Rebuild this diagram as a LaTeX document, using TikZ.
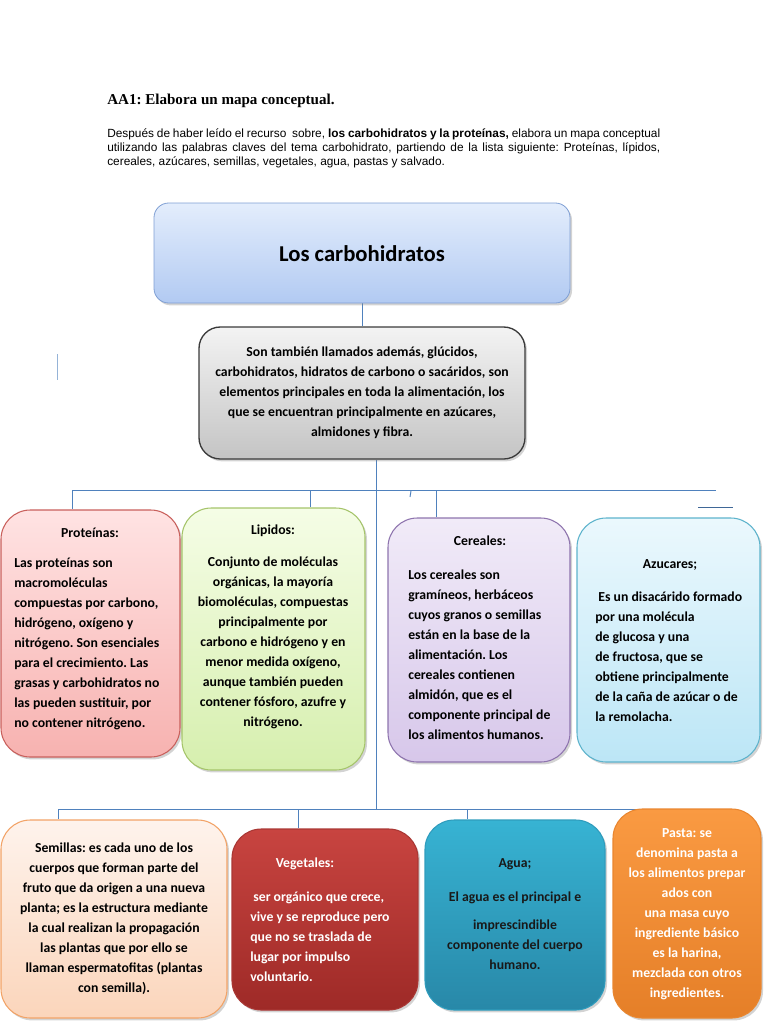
\documentclass[tikz,border=0pt]{standalone}
\usepackage{fontspec}
\setmainfont{Carlito}
\newfontfamily\cabecera{Liberation Serif}
\newfontfamily\arial{Liberation Sans}
\usetikzlibrary{fit,shadows,backgrounds}
\frenchspacing

\definecolor{linea}{HTML}{4F81BD}
\definecolor{azulA}{HTML}{E3EDFC}
\definecolor{azulB}{HTML}{B2CAF2}
\definecolor{azulC}{HTML}{7F9FD4}
\definecolor{grisA}{HTML}{F3F3F3}
\definecolor{grisB}{HTML}{C4C4C4}
\definecolor{grisC}{HTML}{3A3A3A}
\definecolor{rosaA}{HTML}{FFE3E3}
\definecolor{rosaB}{HTML}{F7B2B0}
\definecolor{rosaC}{HTML}{C9605C}
\definecolor{verdeA}{HTML}{F5FDE6}
\definecolor{verdeB}{HTML}{D6EFAE}
\definecolor{verdeC}{HTML}{A5C46A}
\definecolor{lilaA}{HTML}{F1EBF8}
\definecolor{lilaB}{HTML}{D7C7EA}
\definecolor{lilaC}{HTML}{8E74AE}
\definecolor{celesteA}{HTML}{EBF8FD}
\definecolor{celesteB}{HTML}{BCE6F6}
\definecolor{celesteC}{HTML}{5DB3CC}
\definecolor{melocA}{HTML}{FEF3EC}
\definecolor{melocB}{HTML}{FBD5BB}
\definecolor{melocC}{HTML}{F2A367}
\definecolor{rojoA}{HTML}{C84440}
\definecolor{rojoB}{HTML}{9E2A27}
\definecolor{rojoC}{HTML}{A93734}
\definecolor{aguaA}{HTML}{37B3D3}
\definecolor{aguaB}{HTML}{2888A8}
\definecolor{aguaC}{HTML}{2F9CBD}
\definecolor{naranjaA}{HTML}{FA9A42}
\definecolor{naranjaB}{HTML}{E57F28}
\definecolor{naranjaC}{HTML}{E9862F}

\tikzset{
    caja/.style={rounded corners=#1,inner sep=0pt,line width=0.8pt,
        drop shadow={shadow xshift=1.5pt,shadow yshift=-1.8pt,opacity=0.35}},
    texto/.style={font=\fontsize{10.3}{15}\selectfont\bfseries,inner sep=0pt},
    conector/.style={draw=linea,line width=0.7pt}
}

\begin{document}
\begin{tikzpicture}[x=0.75pt,y=-0.75pt]
    \useasboundingbox (0,0) rectangle (768,1024);

    % consigna
    \node[font=\cabecera\bfseries\fontsize{11.3}{13}\selectfont,anchor=west,inner sep=0pt]
        (titulo) at (107,101) {AA1: Elabora un mapa conceptual.};
    \node[font=\arial\fontsize{8.9}{10.5}\selectfont,text width=414.75pt,align=justify,
        anchor=north west,inner sep=0pt] (consigna) at (107,128)
        {Después de haber leído el recurso \ sobre, \textbf{los carbohidratos y la proteínas,}
        elabora un mapa conceptual\linebreak utilizando las palabras claves del tema carbohidrato,
        partiendo de la lista siguiente: Proteínas, lípidos,\linebreak cereales, azúcares,
        semillas, vegetales, agua, pastas y salvado.};

    % tema y resumen
    \node[caja=11pt,fit={(154,203) (570,303)},top color=azulA,bottom color=azulB,draw=azulC,
        line width=0.6pt] (tema) {};
    \node[font=\fontsize{17}{20}\selectfont\bfseries,inner sep=0pt] (temaT) at (362,254)
        {Los carbohidratos};
    \node[caja=16pt,fit={(199,327) (525,459)},top color=grisA,bottom color=grisB,draw=grisC,
        line width=1pt] (resumen) {};
    \node[texto,align=center] (resumenT) at (362,393)
        {Son también llamados además, glúcidos,\\ carbohidratos, hidratos de carbono o sacáridos, son\\
        elementos principales en toda la alimentación, los\\ que se encuentran principalmente en azúcares,\\
        almidones y fibra.};

    % primera fila
    \node[caja=22pt,fit={(1,510) (180,757)},top color=rosaA,bottom color=rosaB,draw=rosaC] (prot) {};
    \node[texto] (protT) at (90,533) {Proteínas:};
    \node[texto,align=left,anchor=west] (protC) at (14,644)
        {Las proteínas son\\ macromoléculas\\ compuestas por carbono,\\ hidrógeno, oxígeno y\\
        nitrógeno. Son esenciales\\ para el crecimiento. Las\\ grasas y carbohidratos no\\
        las pueden sustituir, por\\ no contener nitrógeno.};

    \node[caja=22pt,fit={(182,508) (365,770)},top color=verdeA,bottom color=verdeB,draw=verdeC] (lip) {};
    \node[texto] (lipT) at (273,531) {Lipidos:};
    \node[texto,align=center] (lipC) at (273,643)
        {Conjunto de moléculas\\ orgánicas, la mayoría\\ biomoléculas, compuestas\\ principalmente por\\
        carbono e hidrógeno y en\\ menor medida oxígeno,\\ aunque también pueden\\
        contener fósforo, azufre y\\ nitrógeno.};

    \node[caja=22pt,fit={(388,518) (570,762)},top color=lilaA,bottom color=lilaB,draw=lilaC] (cer) {};
    \node[texto] (cerT) at (480,541) {Cereales:};
    \node[texto,align=left,anchor=west] (cerC) at (408,655)
        {Los cereales son\\ gramíneos, herbáceos\\ cuyos granos o semillas\\ están en la base de la\\
        alimentación. Los\\ cereales contienen\\ almidón, que es el\\ componente principal de\\
        los alimentos humanos.};

    \node[caja=22pt,fit={(577,518) (760,762)},top color=celesteA,bottom color=celesteB,draw=celesteC] (azu) {};
    \node[texto] (azuT) at (670,565) {Azucares;};
    \node[texto,align=left,anchor=west] (azuC) at (595,657)
        {\ Es un disacárido formado\\ por una molécula\\ de glucosa y una\\ de fructosa, que se\\
        obtiene principalmente\\ de la caña de azúcar o de\\ la remolacha.};

    % segunda fila
    \node[caja=22pt,fit={(1,820) (227,1018)},top color=melocA,bottom color=melocB,draw=melocC] (sem) {};
    \node[texto,align=center] (semT) at (114,919)
        {Semillas: es cada uno de los\\ cuerpos que forman parte del\\ fruto que da origen a una nueva\\
        planta; es la estructura mediante\\ la cual realizan la propagación\\ las plantas que por ello se\\
        llaman espermatofitas (plantas\\ con semilla).};

    \node[caja=22pt,fit={(232,829) (418,1010)},top color=rojoA,bottom color=rojoB,draw=rojoC] (veg) {};
    \node[texto,text=white] (vegT) at (305,864) {Vegetales:};
    \node[texto,text=white,align=left,anchor=west] (vegC) at (250,937)
        {\ ser orgánico que crece,\\ vive y se reproduce pero\\ que no se traslada de\\
        lugar por impulso\\ voluntario.};

    \node[caja=22pt,fit={(425,820) (605,1010)},top color=aguaA,bottom color=aguaB,draw=aguaC] (agua) {};
    \node[texto,text=black!90] (aguaT) at (515,864) {Agua;};
    \node[texto,text=black!90,align=center] (aguaC) at (515,931)
        {El agua es el principal e\\[6pt] imprescindible\\ componente del cuerpo\\ humano.};

    \node[caja=22pt,fit={(613,809) (761,1018)},top color=naranjaA,bottom color=naranjaB,draw=naranjaC] (pasta) {};
    \node[texto,text=white,align=center] (pastaT) at (687,914)
        {Pasta: se\\ denomina pasta a\\ los alimentos prepar\\ ados con\\ una masa cuyo\\
        ingrediente básico\\ es la harina,\\ mezclada con otros\\ ingredientes.};

    % conectores
    \coordinate (bus1) at (376,490);
    \coordinate (bus2) at (376,809);
    \coordinate (ramaProt) at (72,490);
    \coordinate (ramaLip) at (310,490);
    \coordinate (ramaCer) at (436,490);
    \coordinate (fin1) at (716,490);
    \coordinate (ramaSem) at (58,809);
    \coordinate (ramaVeg) at (298,809);
    \coordinate (ramaAgua) at (467,809);
    \coordinate (fin2) at (713,809);
    \begin{scope}[on background layer]
        \draw[conector] (tema) -- (resumen);
        \draw[conector] (resumen.south -| bus1) -- (bus2);
        \draw[conector] (ramaProt) -- (fin1);
        \draw[conector] (ramaProt) -- (ramaProt |- prot.north);
        \draw[conector] (ramaLip) -- (ramaLip |- lip.north);
        \draw[conector] (ramaCer) -- (ramaCer |- cer.north);
        \draw[conector] (ramaSem) -- (fin2);
        \draw[conector] (ramaSem) -- (ramaSem |- sem.north);
        \draw[conector] (ramaVeg) -- (ramaVeg |- veg.north);
        \draw[conector] (ramaAgua) -- (ramaAgua |- agua.north);
    \end{scope}

    % trazos sueltos
    \draw[draw=linea!60,line width=0.9pt] (57.5,354) -- (57.5,380);
    \draw[conector] (411,491) -- (410,497);
    \draw[draw=linea!80!black,line width=0.6pt] (698,507) -- (733,507);
\end{tikzpicture}
\end{document}
